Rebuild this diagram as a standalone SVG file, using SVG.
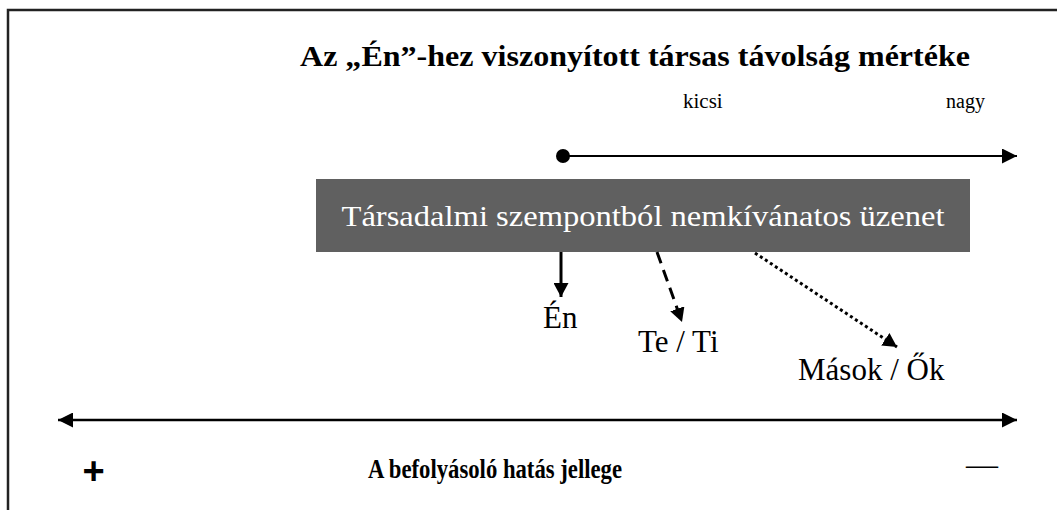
<svg xmlns="http://www.w3.org/2000/svg" width="1057" height="510" viewBox="0 0 1057 510">
<defs>
<style>
.t{font-family:"Liberation Serif","Times New Roman",serif;fill:#000}
.b{font-weight:bold}
.ln{stroke:#000;fill:none}
</style>
<marker id="ah" viewBox="0 0 15 15" refX="15" refY="7.5" markerWidth="15" markerHeight="15" markerUnits="userSpaceOnUse" orient="auto"><path d="M0,0 L15,7.5 L0,15 z" fill="#000"/></marker>
<marker id="ahs" viewBox="0 0 15 15" refX="15" refY="7.5" markerWidth="15" markerHeight="15" markerUnits="userSpaceOnUse" orient="auto-start-reverse"><path d="M0,0 L15,7.5 L0,15 z" fill="#000"/></marker>
<marker id="sh" viewBox="0 0 14 15" refX="14" refY="7.5" markerWidth="14" markerHeight="15" markerUnits="userSpaceOnUse" orient="auto"><path d="M0,0 L14,7.5 L0,15 z" fill="#000"/></marker>
</defs>
<rect x="0" y="0" width="1057" height="510" fill="#fff"/>
<path d="M8,510 V10 H1057" fill="none" stroke="#222" stroke-width="2.5"/>
<g id="title"><text class="t b" x="300" y="66" font-size="29" textLength="670" lengthAdjust="spacingAndGlyphs">Az „Én”-hez viszonyított társas távolság mértéke</text></g>
<g id="scale-labels">
<text class="t" x="683" y="108" font-size="21">kicsi</text>
<text class="t" x="946" y="108" font-size="20">nagy</text>
</g>
<g id="message"><rect x="316" y="179" width="654" height="73" fill="#606060"/>
<text class="t" x="643" y="226" font-size="29" style="fill:#fff" text-anchor="middle" textLength="603" lengthAdjust="spacingAndGlyphs">Társadalmi szempontból nemkívánatos üzenet</text></g>
<g id="en"><text class="t" x="543" y="328" font-size="31">Én</text></g>
<g id="teti"><text class="t" x="638" y="352" font-size="31">Te / Ti</text></g>
<g id="masok"><text class="t" x="798" y="380" font-size="31">Mások / Ők</text></g>
<g id="bottom">
<text x="93.5" y="484" font-family="Liberation Sans, Arial, sans-serif" font-weight="bold" font-size="38" text-anchor="middle">+</text>
<text class="t b" x="368" y="478" font-size="27" textLength="254" lengthAdjust="spacingAndGlyphs">A befolyásoló hatás jellege</text>
<text class="t" x="966" y="475" font-size="32">—</text>
</g>
<g id="connectors">
<circle cx="563" cy="156" r="7" fill="#000"/>
<line class="ln" x1="563" y1="156" x2="1017" y2="156" stroke="#333" stroke-width="2" marker-end="url(#ah)"/>
<line class="ln" x1="58" y1="420" x2="1017" y2="420" stroke-width="2.5" marker-start="url(#ahs)" marker-end="url(#ah)"/>
<line class="ln" x1="561" y1="252" x2="561" y2="297" stroke-width="3" marker-end="url(#sh)"/>
<line class="ln" x1="657" y1="252" x2="682" y2="322" stroke-width="3" stroke-dasharray="12,7" marker-end="url(#sh)"/>
<line class="ln" x1="755" y1="253" x2="897" y2="347" stroke-width="3" stroke-dasharray="3,3" marker-end="url(#sh)"/>
</g>
</svg>
